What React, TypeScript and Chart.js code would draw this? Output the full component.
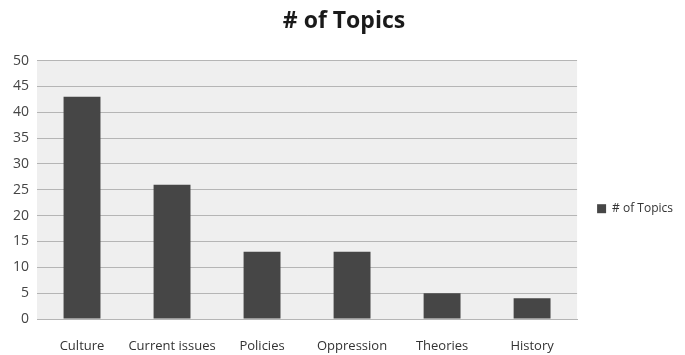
import React, { useEffect, useRef } from "react";
import { Chart, registerables } from "chart.js";

Chart.register(...registerables);

const categories = ["Culture", "Current issues", "Policies", "Oppression", "Theories", "History"];
const topicCounts = [43, 26, 13, 13, 5, 4];
const seriesName = "# of Topics";
const chartTitle = "# of Topics";

const plotBg = {
  id: "plotBg",
  beforeDraw(chart: any) {
    const { ctx, chartArea } = chart;
    if (!chartArea) return;
    ctx.save();
    ctx.fillStyle = "#efefef";
    ctx.fillRect(chartArea.left, chartArea.top, chartArea.right - chartArea.left, chartArea.bottom - chartArea.top);
    ctx.restore();
  },
};

export default function App() {
  const ref = useRef<HTMLCanvasElement | null>(null);
  useEffect(() => {
    document.body.style.margin = "0";
    const font = "'Open Sans', 'DejaVu Sans', sans-serif";
    const chart = new Chart(ref.current!, {
      type: "bar",
      data: {
        labels: categories,
        datasets: [
          {
            label: seriesName,
            data: topicCounts,
            backgroundColor: "#464646",
            borderWidth: 0,
            categoryPercentage: 0.82,
            barPercentage: 0.5,
          },
        ],
      },
      options: {
        responsive: false,
        animation: false,
        layout: { padding: { left: 5, right: 2, top: 8, bottom: 0 } },
        plugins: {
          title: {
            display: true,
            text: chartTitle,
            color: "#1a1a1a",
            font: { family: font, size: 23, weight: "bold" },
            padding: { top: 0, bottom: 25 },
          },
          legend: {
            position: "right",
            title: { display: true, text: " ", padding: 20, font: { family: font, size: 12 } },
            labels: {
              color: "#333",
              font: { family: font, size: 12 },
              boxWidth: 9,
              boxHeight: 9,
              padding: 20,
            },
          },
          tooltip: { enabled: false },
        },
        scales: {
          x: {
            grid: { display: false, drawTicks: false },
            border: { color: "#b5b5b5" },
            ticks: { color: "#333", font: { family: font, size: 13 }, padding: 19, maxRotation: 0, autoSkip: false },
            afterFit: (scale: any) => {
              scale.height = 36;
            },
          },
          y: {
            min: 0,
            max: 50,
            ticks: { stepSize: 5, color: "#444", font: { family: font, size: 14 }, padding: 8 },
            grid: { color: "#b5b5b5", drawTicks: false },
            border: { display: false },
          },
        },
      },
      plugins: [plotBg],
    });
    return () => chart.destroy();
  }, []);
  return (
    <div style={{ width: 685, height: 355, background: "#fff" }}>
      <canvas ref={ref} width={685} height={355} />
    </div>
  );
}
